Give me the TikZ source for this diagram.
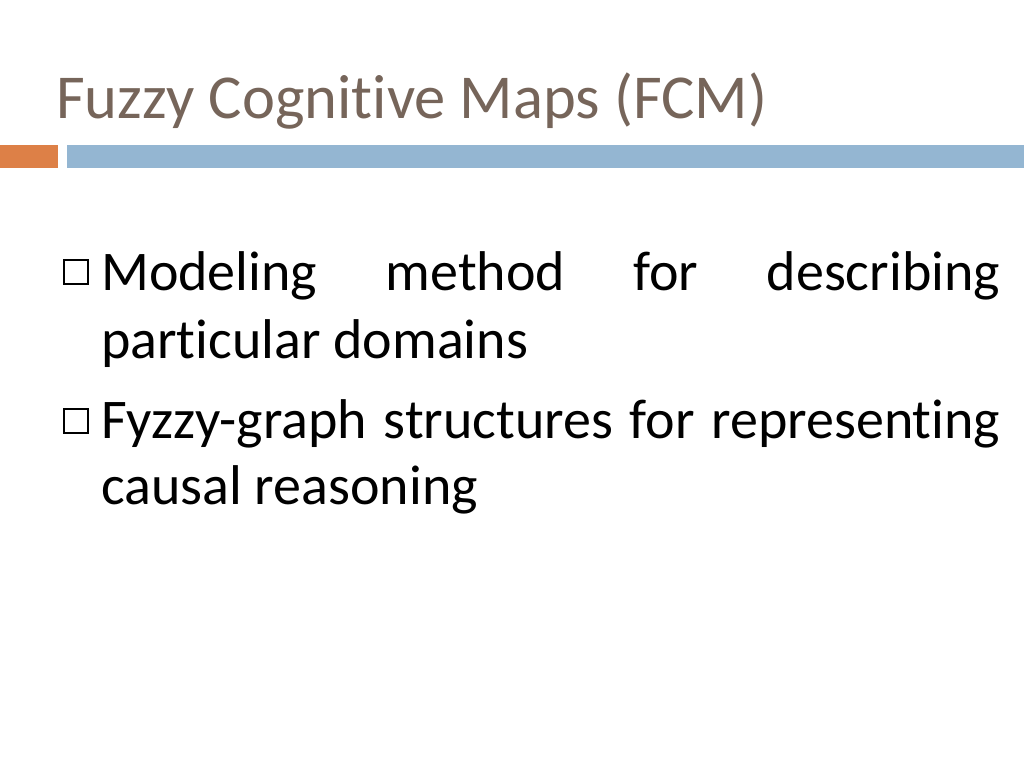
\documentclass[tikz,border=0pt]{standalone}
\usepackage{fontspec}
\setmainfont[Ligatures=NoCommon]{Carlito}
\definecolor{titlec}{HTML}{76655A}
\definecolor{orangebar}{HTML}{DD8047}
\definecolor{bluebar}{HTML}{94B6D2}
\begin{document}
\begin{tikzpicture}[x=1pt,y=-1pt,
  txt/.style={anchor=base west,inner sep=0pt,font=\fontsize{56}{64}\selectfont},
  bul/.style={draw=black,line width=1.3pt,minimum size=24pt,inner sep=0pt}]
\useasboundingbox (0,0) rectangle (1024,768);
\node[anchor=base west,inner sep=0pt,text=titlec,font=\fontsize{62.5}{70}\selectfont] (title) at (56,118) {Fuzzy Cognitive Maps (FCM)};
\fill[orangebar] (0,145) rectangle (58,168);
\fill[bluebar] (67,145) rectangle (1024,168);
\node[bul] (b1) at (76,272) {};
\node[bul] (b2) at (76,421) {};
\node[txt] (l1) at (101,290) {\hbox to 899pt{Modeling\hfill method\hfill for\hfill describing}};
\node[txt] (l2) at (101,358) {particular domains};
\node[txt] (l3) at (101,438) {\hbox to 899pt{Fyzzy-graph\hfil\ structures\hfil\ for\hfil\ representing}};
\node[txt] (l4) at (101,504) {causal reasoning};
\end{tikzpicture}
\end{document}
